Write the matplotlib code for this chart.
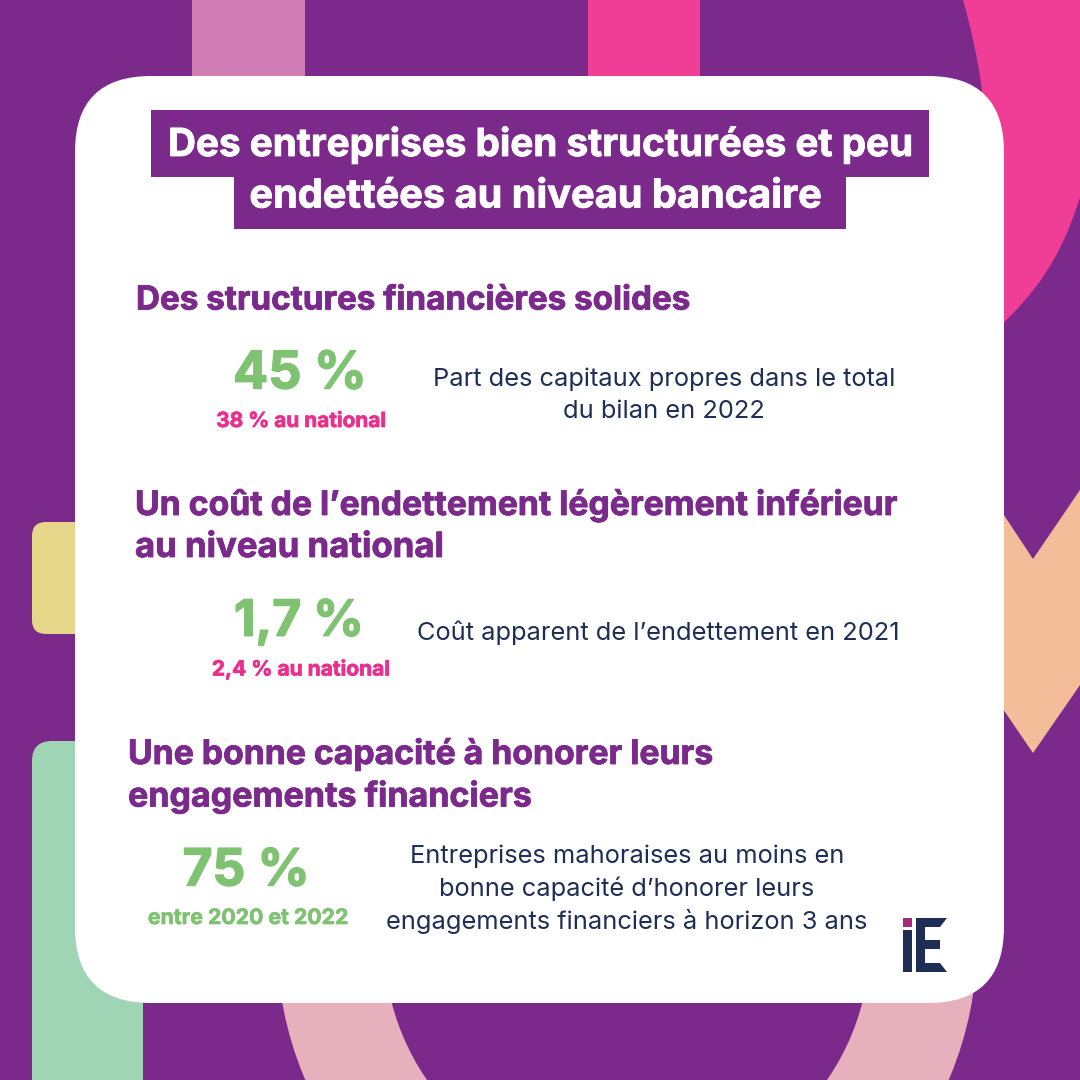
import matplotlib
matplotlib.use('Agg')
import matplotlib.pyplot as plt
import matplotlib.patheffects as pe
from matplotlib.patches import FancyBboxPatch, Polygon, Rectangle, Wedge, PathPatch
from matplotlib.path import Path

# Text content
title_lines = ['Des entreprises bien structurées et peu', 'endettées au niveau bancaire']
headings = ['Des structures financières solides',
            'Un coût de l’endettement légèrement inférieur',
            'au niveau national',
            'Une bonne capacité à honorer leurs',
            'engagements financiers']
big_values = ['45 %', '1,7 %', '75 %']
sub_values = ['38 % au national', '2,4 % au national', 'entre 2020 et 2022']
descriptions = [['Part des capitaux propres dans le total', 'du bilan en 2022'],
                ['Coût apparent de l’endettement en 2021'],
                ['Entreprises mahoraises au moins en', 'bonne capacité d’honorer leurs',
                 'engagements financiers à horizon 3 ans']]

PURPLE = '#7B2A8C'
HOT_PINK = '#F03E96'
MAUVE = '#D27DB5'
YELLOW = '#E6D68A'
MINT = '#9FD4B5'
PEACH = '#F3BD9A'
ROSE = '#E6B0BC'
NAVY = '#1F2E55'
GREEN = '#7FC272'
SUB_PINK = '#EC2F8C'

FONT = 'Inter'

fig = plt.figure(figsize=(10.8, 10.8), dpi=100, facecolor=PURPLE)
ax = fig.add_axes([0, 0, 1, 1])
ax.set_xlim(0, 1080)
ax.set_ylim(1080, 0)
ax.axis('off')


def rounded(x0, y0, x1, y1, r, color, z):
    ax.add_patch(FancyBboxPatch((x0 + r, y0 + r), x1 - x0 - 2 * r, y1 - y0 - 2 * r,
                                boxstyle=f'round,pad={r},rounding_size={r}',
                                fc=color, ec='none', zorder=z))


def heavy(x, y, s, color, size, width=0.6, ha='center'):
    # Inter bold is a bit light next to the original face, thicken with a stroke
    t = ax.text(x, y, s, color=color, fontsize=size, fontweight='bold', family=FONT,
                ha=ha, va='center', zorder=4)
    t.set_path_effects([pe.withStroke(linewidth=width, foreground=color)])
    return t


# background shapes
ax.add_patch(Rectangle((192, 0), 113, 90, fc=MAUVE, ec='none', zorder=1))
ax.add_patch(Rectangle((588, 0), 112, 90, fc=HOT_PINK, ec='none', zorder=1))

pink_path = Path([(963, 0), (1080, 0), (1080, 197),
                  (1060, 262), (1032, 296), (1000, 326),
                  (980, 340), (980, 340),
                  (996, 240), (995, 110), (963, 0)],
                 [Path.MOVETO, Path.LINETO, Path.LINETO,
                  Path.CURVE4, Path.CURVE4, Path.CURVE4,
                  Path.LINETO, Path.LINETO,
                  Path.CURVE4, Path.CURVE4, Path.CURVE4])
ax.add_patch(PathPatch(pink_path, fc=HOT_PINK, ec='none', zorder=1))

ax.add_patch(Polygon([(990, 494), (1033, 559), (1080, 490), (1080, 685),
                      (1033, 753), (990, 690)], fc=PEACH, ec='none', zorder=1))

rounded(32, 522, 120, 634, 14, YELLOW, 1)
rounded(32, 741, 143, 1200, 20, MINT, 1)

# the ring under the card, centre is off to the bottom
ring = Wedge((627, 942), 350, 0, 360, width=107, fc=ROSE, ec='none', zorder=1)
ax.add_patch(ring)

# white card
rounded(75, 76, 1004, 1003, 76, 'white', 2)

# title
ax.add_patch(Rectangle((151, 110), 778, 67, fc=PURPLE, ec='none', zorder=3))
ax.add_patch(Rectangle((234, 177), 612, 52, fc=PURPLE, ec='none', zorder=3))
heavy(540, 145, title_lines[0], 'white', 27.8)
heavy(536, 197, title_lines[1], 'white', 28.6)

# section headings, sizes per line so the widths land on the original ones
heading_pos = [(136, 301), (135, 505), (135, 548), (128, 754), (128, 797)]
heading_sizes = [23.9, 24.3, 25.0, 24.3, 24.5]
for (hx, hy), line, size in zip(heading_pos, headings, heading_sizes):
    heavy(hx, hy, line, PURPLE, size, ha='left')

# key figures
value_pos = [(300, 375), (299, 622), (246, 872)]
value_sizes = [37.5, 36.0, 37.0]
sub_pos = [(301, 421), (301, 669), (248, 918)]
sub_sizes = [15.0, 15.1, 15.3]
for (vx, vy), val, size in zip(value_pos, big_values, value_sizes):
    heavy(vx, vy, val, GREEN, size, width=1.0)
for (sx, sy), val, col, size in zip(sub_pos, sub_values, [SUB_PINK, SUB_PINK, GREEN], sub_sizes):
    heavy(sx, sy, val, col, size, width=0.5)

# descriptions
desc_pos = [(664, [379, 412]), (658, [633]), (627, [856, 889, 922])]
for (dx, ys), lines in zip(desc_pos, descriptions):
    for dy, line in zip(ys, lines):
        ax.text(dx, dy, line, color=NAVY, fontsize=18.3, family=FONT,
                ha='center', va='center', zorder=4)

# iE logo
ax.add_patch(Rectangle((903, 918), 9, 9, fc='#A8287E', ec='none', zorder=4))
ax.add_patch(Rectangle((903, 930), 9, 42, fc=NAVY, ec='none', zorder=4))
ax.add_patch(Polygon([(916, 918), (947, 918), (940, 927), (925, 927), (925, 940),
                      (940, 940), (940, 949), (925, 949), (925, 963), (940, 963),
                      (947, 972), (916, 972)], fc=NAVY, ec='none', zorder=4))

fig.savefig('out.png', dpi=100, facecolor=fig.get_facecolor())
